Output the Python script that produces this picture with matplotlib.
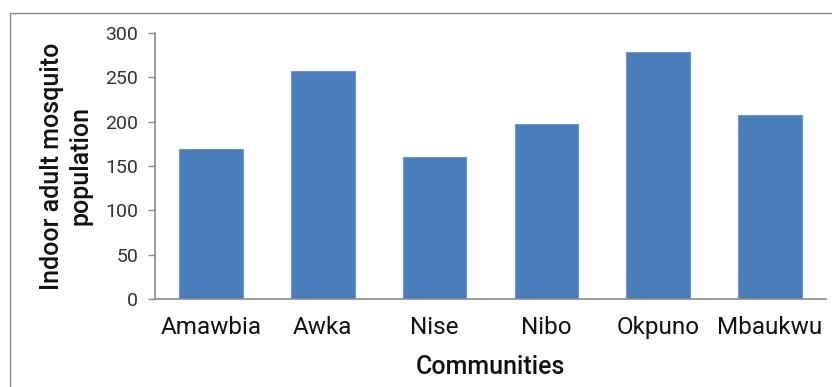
import matplotlib.pyplot as plt
from matplotlib.patches import Rectangle

# Indoor adult mosquito counts per community
COMMUNITIES = ["Amawbia", "Awka", "Nise", "Nibo", "Okpuno", "Mbaukwu"]
MOSQUITO_COUNTS = [169, 257, 160, 197, 279, 208]
Y_TICKS = [0, 50, 100, 150, 200, 250, 300]

BAR_BLUE = "#4a7ebb"
BAR_EDGE = "#6d98cc"
AXIS_GREY = "#8c8c8c"

plt.rcParams["font.family"] = ["Roboto", "DejaVu Sans"]

fig = plt.figure(figsize=(8.32, 3.87), dpi=100)
ax = fig.add_axes([0.1863, 0.2274, 0.8065, 0.6873])

# outer chart frame (only top and left edges fall inside the picture)
fig.patches.append(Rectangle((10 / 832, -0.1), 1.2, 1.1 - 13 / 387,
                             transform=fig.transFigure, fill=False,
                             edgecolor="#8a8a8a", linewidth=1.0))

x = range(len(COMMUNITIES))
ax.bar(x, MOSQUITO_COUNTS, width=0.57, color=BAR_BLUE,
       edgecolor=BAR_EDGE, linewidth=0.8)

ax.set_xlim(-0.5, len(COMMUNITIES) - 0.5)
ax.set_ylim(0, 300)
ax.set_yticks(Y_TICKS)
ax.set_xticks(list(x))
ax.set_xticklabels(COMMUNITIES, fontsize=17.5, color="#111111")
ax.tick_params(axis="x", length=0, pad=12)
ax.tick_params(axis="y", length=5, width=1, color=AXIS_GREY,
               labelsize=14, labelcolor="#333333", pad=7)

for side in ["top", "right"]:
    ax.spines[side].set_visible(False)
for side in ["left", "bottom"]:
    ax.spines[side].set_color(AXIS_GREY)
    ax.spines[side].set_linewidth(1.2)

ax.set_xlabel("Communities", fontsize=18, fontweight="medium",
              color="#111111", labelpad=12)

fig.text(66 / 832, 1 - 166 / 387, "Indoor adult mosquito\npopulation",
         rotation=90, ha="center", va="center", multialignment="center",
         fontsize=18, fontweight="medium", color="#111111", linespacing=1.25)

fig.savefig("out.png", dpi=100, facecolor="white")
